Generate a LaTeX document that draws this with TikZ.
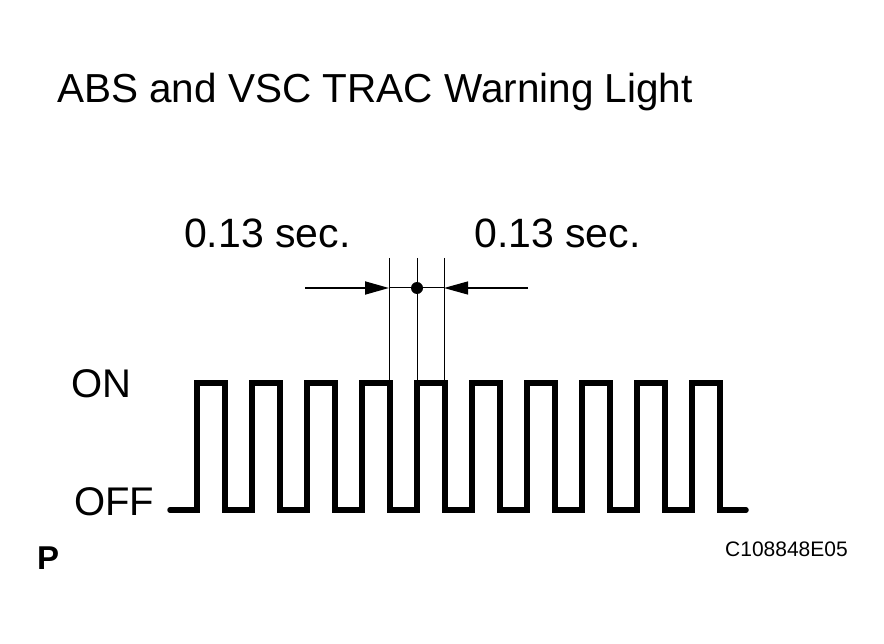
\documentclass[tikz,border=0pt]{standalone}
\usepackage{fontspec}
\setsansfont{Liberation Sans}
\usetikzlibrary{arrows.meta}

\begin{document}
\begin{tikzpicture}[
    x=1pt, y=-1pt,
    font=\sffamily,
    wave/.style={line width=5.5pt, line join=miter, line cap=round},
    dimline/.style={line width=1pt},
    dimarrow/.style={-{Triangle[length=24pt, width=13pt]}, line width=1.2pt},
    sigtext/.style={anchor=base west, inner sep=0pt,
                    font=\sffamily\fontsize{40}{42}\selectfont},
    tagtext/.style={anchor=base east, inner sep=0pt,
                    font=\sffamily\fontsize{21}{24}\selectfont},
]
\useasboundingbox (0,0) rectangle (884,644);

\def\xo{197}   % first rising edge
\def\per{55}   % pulse period
\def\hw{28}    % pulse width
\def\yon{383}
\def\yoff{510}

% ── Title ──
\node[sigtext, font=\sffamily\fontsize{40.5}{43}\selectfont] (title) at (57,103)
    {ABS and VSC TRAC Warning Light};

% ── Waveform ──
\node[sigtext] (on) at (71,398) {ON};
\node[sigtext] (off) at (74,515) {OFF};
\draw[wave] (170,\yoff)
    \foreach \i in {0,...,9} {
        -- ({\xo+\per*\i},\yoff) -- ({\xo+\per*\i},\yon)
        -- ({\xo+\per*\i+\hw},\yon) -- ({\xo+\per*\i+\hw},\yoff)
    } -- (746,\yoff);

% ── Timing marks ──
\foreach \x [count=\k] in {389,417,444} {
    \coordinate (t\k-top) at (\x,258);
    \coordinate (t\k-bot) at (\x,380);
    \draw[dimline] (t\k-top) -- (t\k-bot);
}
\coordinate (arrL) at (305,288);
\coordinate (arrR) at (528,288);
\coordinate (mL) at (389,288);
\coordinate (mR) at (444,288);
\node[circle, fill, inner sep=0pt, minimum size=12pt] (dot) at (417,288) {};
\draw[dimline] (mL) -- (mR);
\draw[dimarrow, line width=1.8pt] (arrL) -- (mL);
\draw[dimarrow] (arrR) -- (mR);
\node[sigtext, font=\sffamily\fontsize{41}{43}\selectfont] (tleft) at (184,248) {0.13 sec.};
\node[sigtext, font=\sffamily\fontsize{41}{43}\selectfont] (tright) at (474,248) {0.13 sec.};

% ── Footer ──
\node[sigtext, font=\sffamily\bfseries\fontsize{33}{36}\selectfont] (pmark) at (37,569) {P};
\node[tagtext] (code) at (848,556) {C108848E05};

\end{tikzpicture}
\end{document}
